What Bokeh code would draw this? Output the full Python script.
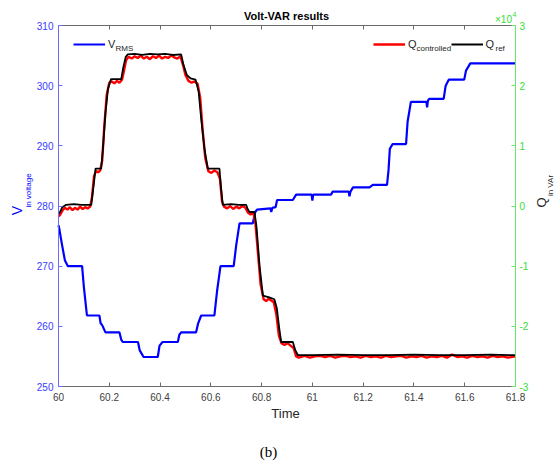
import math
from bokeh.plotting import figure
from bokeh.models import (Range1d, LinearAxis, FixedTicker, Label, Legend,
                          LegendItem)
from bokeh.embed import file_html
from bokeh.resources import INLINE

# ---------------- data ----------------
x_ticks = [60.0, 60.2, 60.4, 60.6, 60.8, 61.0, 61.2, 61.4, 61.6, 61.8]
x_tick_labels = ["60", "60.2", "60.4", "60.6", "60.8", "61", "61.2", "61.4", "61.6", "61.8"]
v_ticks = [250, 260, 270, 280, 290, 300, 310]
q_ticks = [-3, -2, -1, 0, 1, 2, 3]
q_tick_labels = ["-3", "-2", "-1", "0", "1", "2", "3"]

# V_RMS (V)
t_v = [60.000, 60.004, 60.012, 60.025, 60.037, 60.093, 60.100, 60.112, 60.161, 60.166,
       60.172, 60.185, 60.240, 60.247, 60.253, 60.313, 60.320, 60.335, 60.391, 60.398,
       60.410, 60.470, 60.476, 60.483, 60.542, 60.550, 60.562, 60.614, 60.625, 60.638,
       60.690, 60.700, 60.713, 60.765, 60.775, 60.782, 60.835, 60.838, 60.842, 60.855,
       60.861, 60.923, 60.936, 60.997, 61.000, 61.003, 61.074, 61.080, 61.143, 61.146,
       61.150, 61.160, 61.225, 61.238, 61.294, 61.300, 61.305, 61.316, 61.369, 61.375,
       61.388, 61.449, 61.452, 61.455, 61.460, 61.517, 61.525, 61.537, 61.598, 61.605,
       61.622, 61.800]
v_rms = [276.8, 276.0, 274.0, 271.0, 270.0, 270.0, 266.5, 261.8, 261.8, 260.5,
         260.2, 259.0, 259.0, 257.8, 257.4, 257.4, 256.0, 254.9, 254.9, 256.8,
         257.4, 257.4, 258.6, 259.0, 259.0, 260.5, 261.8, 261.8, 266.0, 270.0,
         270.0, 273.5, 277.1, 277.1, 279.0, 279.4, 279.6, 279.0, 279.7, 279.8,
         281.0, 281.0, 281.9, 281.9, 280.9, 281.9, 281.9, 282.4, 282.4, 281.6,
         282.4, 283.1, 283.1, 283.5, 283.5, 286.0, 289.5, 290.3, 290.3, 294.0,
         297.3, 297.3, 296.4, 297.5, 297.8, 297.8, 300.0, 301.0, 301.0, 302.5,
         303.7, 303.7]

# Q reference (x 10^4 VAr)
t_ref = [60.000, 60.006, 60.015, 60.030, 60.060, 60.090, 60.120, 60.129, 60.140, 60.146,
         60.168, 60.175, 60.185, 60.195, 60.207, 60.247, 60.255, 60.265, 60.273, 60.300,
         60.330, 60.360, 60.390, 60.420, 60.450, 60.483, 60.492, 60.505, 60.520, 60.540,
         60.552, 60.562, 60.575, 60.588, 60.634, 60.640, 60.647, 60.680, 60.710, 60.739,
         60.745, 60.752, 60.772, 60.780, 60.792, 60.805, 60.830, 60.850, 60.860, 60.870,
         60.877, 60.923, 60.933, 60.943, 61.000, 61.100, 61.200, 61.300, 61.400, 61.500,
         61.600, 61.700, 61.800]
q_ref = [-0.13, -0.10, -0.02, 0.02, 0.03, 0.02, 0.02, 0.02, 0.40, 0.62,
         0.62, 0.95, 1.55, 1.95, 2.11, 2.11, 2.30, 2.48, 2.52, 2.53,
         2.51, 2.53, 2.52, 2.53, 2.51, 2.52, 2.35, 2.18, 2.12, 2.10,
         1.90, 1.45, 0.95, 0.62, 0.62, 0.30, 0.02, 0.03, 0.02, 0.02,
         -0.05, -0.10, -0.10, -0.35, -1.00, -1.49, -1.52, -1.55, -1.70, -2.05,
         -2.26, -2.26, -2.40, -2.48, -2.48, -2.47, -2.48, -2.48, -2.47, -2.48,
         -2.48, -2.47, -2.48]

# Q controlled (x 10^4 VAr)
t_ctrl = [60.000, 60.006, 60.015, 60.025, 60.035, 60.045, 60.055, 60.065, 60.075, 60.085,
          60.095, 60.105, 60.115, 60.125, 60.132, 60.140, 60.148, 60.156, 60.164, 60.172,
          60.180, 60.190, 60.200, 60.210, 60.220, 60.230, 60.240, 60.250, 60.258, 60.266,
          60.276, 60.288, 60.300, 60.312, 60.324, 60.336, 60.348, 60.360, 60.372, 60.384,
          60.396, 60.408, 60.420, 60.432, 60.444, 60.456, 60.468, 60.480, 60.490, 60.500,
          60.512, 60.524, 60.536, 60.548, 60.558, 60.568, 60.578, 60.590, 60.602, 60.614,
          60.626, 60.636, 60.644, 60.652, 60.664, 60.676, 60.688, 60.700, 60.712, 60.724,
          60.736, 60.746, 60.756, 60.768, 60.776, 60.786, 60.796, 60.808, 60.818, 60.828,
          60.838, 60.848, 60.858, 60.868, 60.878, 60.890, 60.902, 60.914, 60.926, 60.936,
          60.946, 60.970, 60.990, 61.010, 61.030, 61.050, 61.070, 61.090, 61.110, 61.130,
          61.150, 61.170, 61.190, 61.210, 61.230, 61.250, 61.270, 61.290, 61.310, 61.330,
          61.350, 61.370, 61.390, 61.410, 61.430, 61.450, 61.470, 61.490, 61.510, 61.530,
          61.550, 61.570, 61.590, 61.610, 61.630, 61.650, 61.670, 61.690, 61.710, 61.730,
          61.750, 61.770, 61.800]
q_ctrl = [-0.17, -0.15, -0.08, -0.03, -0.06, -0.02, -0.07, -0.03, -0.06, -0.01,
          -0.05, -0.02, -0.04, -0.01, 0.15, 0.50, 0.58, 0.56, 0.59, 0.75,
          1.30, 1.85, 2.05, 2.07, 2.04, 2.08, 2.05, 2.10, 2.25, 2.42,
          2.48, 2.45, 2.49, 2.46, 2.50, 2.45, 2.48, 2.44, 2.49, 2.46,
          2.50, 2.45, 2.48, 2.46, 2.50, 2.47, 2.45, 2.49, 2.35, 2.18,
          2.08, 2.05, 2.07, 2.03, 1.80, 1.25, 0.80, 0.58, 0.55, 0.59,
          0.56, 0.45, 0.08, -0.01, -0.04, 0.00, -0.05, -0.01, -0.04, 0.00,
          -0.03, -0.11, -0.14, -0.12, -0.30, -0.80, -1.30, -1.55, -1.58, -1.54,
          -1.57, -1.60, -1.80, -2.15, -2.28, -2.31, -2.28, -2.32, -2.36, -2.50,
          -2.52, -2.49, -2.52, -2.50, -2.49, -2.51, -2.49, -2.52, -2.50, -2.49,
          -2.51, -2.50, -2.52, -2.49, -2.51, -2.50, -2.52, -2.49, -2.51, -2.50,
          -2.49, -2.52, -2.50, -2.51, -2.49, -2.52, -2.50, -2.51, -2.49, -2.52,
          -2.47, -2.51, -2.50, -2.52, -2.49, -2.51, -2.50, -2.52, -2.49, -2.51,
          -2.50, -2.52, -2.50]

assert len(t_v) == len(v_rms)
assert len(t_ref) == len(q_ref)
assert len(t_ctrl) == len(q_ctrl)

# ---------------- layout (pixels) ----------------
W, H = 558, 462
BOX_L, BOX_R, BOX_T, BOX_B = 58, 515, 25, 386   # plot box in page pixels
X0, X1 = x_ticks[0], x_ticks[-1]
V0, V1 = v_ticks[0], v_ticks[-1]
Q0, Q1 = q_ticks[0], q_ticks[-1]


def ext(lo, hi, px_lo, px_hi, pad_lo, pad_hi):
    s = (hi - lo) / (px_hi - px_lo)
    return lo - pad_lo * s, hi + pad_hi * s


xr = ext(X0, X1, BOX_L, BOX_R, BOX_L, W - BOX_R)
vr = ext(V0, V1, BOX_T, BOX_B, H - BOX_B, BOX_T)
qr = ext(Q0, Q1, BOX_T, BOX_B, H - BOX_B, BOX_T)

FONT = "Liberation Sans"
BLUE_AX = "#3a3aff"
GREEN_AX = "#33e033"
GRAY = "#404040"

p = figure(width=W, height=H, output_backend="svg", toolbar_location=None,
           x_range=Range1d(*xr), y_range=Range1d(*vr),
           x_axis_location=None, y_axis_location=None, title_location=None,
           min_border=0)
p.extra_y_ranges = {"q": Range1d(*qr)}
p.xgrid.visible = False
p.ygrid.visible = False
p.outline_line_color = None
p.background_fill_color = "white"
p.border_fill_color = "white"


def style_axis(ax, color, label_color, standoff):
    ax.axis_line_color = color
    ax.axis_line_width = 1
    ax.major_tick_line_color = color
    ax.minor_tick_line_color = None
    ax.major_tick_in = 4
    ax.major_tick_out = 0
    ax.major_label_text_font = FONT
    ax.major_label_text_font_size = "10px"
    ax.major_label_text_color = label_color
    ax.major_label_standoff = standoff


xb = LinearAxis(ticker=FixedTicker(ticks=x_ticks), fixed_location=V0, bounds=(X0, X1),
                major_label_overrides=dict(zip(x_ticks, x_tick_labels)))
style_axis(xb, "#6a6a6a", GRAY, 6)
p.add_layout(xb, "below")

xt = LinearAxis(ticker=FixedTicker(ticks=x_ticks), fixed_location=V1, bounds=(X0, X1),
                major_label_text_alpha=0)
style_axis(xt, "#6a6a6a", GRAY, 0)
xt.major_label_text_alpha = 0
xt.major_label_text_font_size = "1px"
p.add_layout(xt, "above")

yl = LinearAxis(ticker=FixedTicker(ticks=v_ticks), fixed_location=X0, bounds=(V0, V1))
style_axis(yl, "#6b6bff", BLUE_AX, 5)
p.add_layout(yl, "left")

yr = LinearAxis(ticker=FixedTicker(ticks=q_ticks), y_range_name="q", fixed_location=X1,
                bounds=(Q0, Q1), major_label_overrides=dict(zip(q_ticks, q_tick_labels)))
style_axis(yr, "#6be86b", GREEN_AX, 4)
p.add_layout(yr, "right")

r_blue = p.line(t_v, v_rms, line_color="#0000ff", line_width=2.2)
r_red = p.line(t_ctrl, q_ctrl, line_color="#ff0000", line_width=2.4, y_range_name="q")
r_black = p.line(t_ref, q_ref, line_color="#000000", line_width=1.8, y_range_name="q")

leg_common = dict(orientation="horizontal", glyph_width=32, glyph_height=20,
                  label_standoff=3, padding=0, margin=0, border_line_color=None,
                  background_fill_alpha=0, label_text_font_size="11px",
                  label_text_font=FONT, label_text_color="#262626",
                  label_width=0, label_height=12)
leg1 = Legend(items=[LegendItem(label="V", renderers=[r_blue])],
              location=(73, H - 54), **leg_common)
leg2 = Legend(items=[LegendItem(label="Q", renderers=[r_red]),
                     LegendItem(label="Q", renderers=[r_black])],
              location=(373, H - 54), spacing=34, **leg_common)
p.add_layout(leg1)
p.add_layout(leg2)


def lab(text, x, y, size, color="#262626", angle=0.0, bold=False, font=FONT,
        align="center", baseline="middle"):
    # x, y given in page pixels from the top-left corner
    p.add_layout(Label(x=x, y=H - y, x_units="screen", y_units="screen", text=text,
                       text_font_size=f"{size}px", text_color=color, angle=angle,
                       text_align=align, text_baseline=baseline, text_font=font,
                       text_font_style="bold" if bold else "normal"))


# legend subscripts
lab("RMS", 115, 48, 8, align="left")
lab("controlled", 416, 47.5, 8, align="left")
lab("ref", 495, 47.5, 8, align="left")

# title
lab("Volt-VAR results", 286, 15, 11, color="#000000", bold=True)
# x label
lab("Time", 285, 413, 13)
# left y label
lab("V", 16.5, 210, 14, color="#0000ff", angle=math.pi / 2)
lab("in voltage", 27.5, 190, 8, color="#0000ff", angle=math.pi / 2)
# right y label
lab("Q", 541, 202, 13, color="#262626", angle=math.pi / 2)
lab("in VAr", 550, 185, 8, color="#262626", angle=math.pi / 2)
# exponent
lab("\u00d710", 503, 18.5, 10, color=GREEN_AX)
lab("4", 514, 14, 7, color=GREEN_AX)
# caption
lab("(b)", 268, 451, 15, color="#000000", font="Liberation Serif")

open("out.html", "w").write(file_html(p, INLINE))
